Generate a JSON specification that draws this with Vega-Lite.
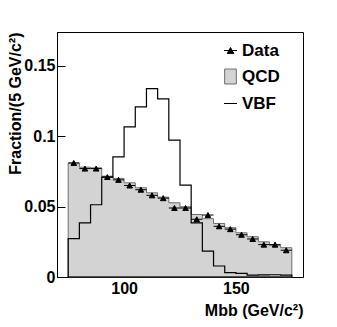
{
  "$schema": "https://vega.github.io/schema/vega-lite/v6.json",
  "width": 246,
  "height": 245,
  "autosize": {"type": "none"},
  "padding": {"left": 57, "top": 32, "right": 34, "bottom": 50},
  "background": "white",
  "data": {"values": [
    {"lo": 75, "hi": 80, "m": 77.5, "qcd": 0.0809, "vbf": 0.0272, "data": 0.081},
    {"lo": 80, "hi": 85, "m": 82.5, "qcd": 0.0780, "vbf": 0.0385, "data": 0.077},
    {"lo": 85, "hi": 90, "m": 87.5, "qcd": 0.0775, "vbf": 0.0513, "data": 0.077},
    {"lo": 90, "hi": 95, "m": 92.5, "qcd": 0.0716, "vbf": 0.0710, "data": 0.071},
    {"lo": 95, "hi": 100, "m": 97.5, "qcd": 0.0700, "vbf": 0.0853, "data": 0.069},
    {"lo": 100, "hi": 105, "m": 102.5, "qcd": 0.0669, "vbf": 0.1066, "data": 0.065},
    {"lo": 105, "hi": 110, "m": 107.5, "qcd": 0.0634, "vbf": 0.1208, "data": 0.062},
    {"lo": 110, "hi": 115, "m": 112.5, "qcd": 0.0598, "vbf": 0.1338, "data": 0.058},
    {"lo": 115, "hi": 120, "m": 117.5, "qcd": 0.0567, "vbf": 0.1265, "data": 0.056},
    {"lo": 120, "hi": 125, "m": 122.5, "qcd": 0.0527, "vbf": 0.0972, "data": 0.049},
    {"lo": 125, "hi": 130, "m": 127.5, "qcd": 0.0499, "vbf": 0.0652, "data": 0.049},
    {"lo": 130, "hi": 135, "m": 132.5, "qcd": 0.0444, "vbf": 0.0385, "data": 0.041},
    {"lo": 135, "hi": 140, "m": 137.5, "qcd": 0.0414, "vbf": 0.0184, "data": 0.044},
    {"lo": 140, "hi": 145, "m": 142.5, "qcd": 0.0380, "vbf": 0.0078, "data": 0.036},
    {"lo": 145, "hi": 150, "m": 147.5, "qcd": 0.0350, "vbf": 0.0031, "data": 0.034},
    {"lo": 150, "hi": 155, "m": 152.5, "qcd": 0.0314, "vbf": 0.0026, "data": 0.030},
    {"lo": 155, "hi": 160, "m": 157.5, "qcd": 0.0286, "vbf": 0.0014, "data": 0.027},
    {"lo": 160, "hi": 165, "m": 162.5, "qcd": 0.0250, "vbf": 0.0015, "data": 0.023},
    {"lo": 165, "hi": 170, "m": 167.5, "qcd": 0.0225, "vbf": 0.0016, "data": 0.023},
    {"lo": 170, "hi": 175, "m": 172.5, "qcd": 0.0208, "vbf": 0.0014, "data": 0.019}
  ]},
  "layer": [
    {
      "transform": [{"fold": ["lo", "hi"], "as": ["edge", "x"]}],
      "mark": {"type": "area", "fill": "#d3d3d3", "stroke": "#6e6e6e", "strokeWidth": 1, "opacity": 1},
      "encoding": {
        "x": {"field": "x", "type": "quantitative", "scale": {"domain": [70, 180], "nice": false}, "title": "Mbb (GeV/c²)", "axis": {"values": [100, 150]}},
        "y": {"field": "qcd", "type": "quantitative", "scale": {"domain": [0, 0.174], "nice": false}, "title": "Fraction/(5 GeV/c²)", "stack": null, "axis": {"values": [0, 0.05, 0.1, 0.15], "format": "~g"}}
      }
    },
    {
      "transform": [{"fold": ["lo", "hi"], "as": ["edge", "x"]}],
      "mark": {"type": "area", "fill": "transparent", "stroke": "black", "strokeWidth": 1.2},
      "encoding": {
        "x": {"field": "x", "type": "quantitative", "title": "Mbb (GeV/c²)"},
        "y": {"field": "vbf", "type": "quantitative", "title": "Fraction/(5 GeV/c²)", "stack": null}
      }
    },
    {
      "mark": {"type": "point", "filled": true, "opacity": 1, "size": 125, "strokeWidth": 1},
      "encoding": {
        "x": {"field": "m", "type": "quantitative", "title": "Mbb (GeV/c²)"},
        "y": {"field": "data", "type": "quantitative", "title": "Fraction/(5 GeV/c²)"},
        "shape": {"datum": "Data", "type": "nominal", "scale": {"domain": ["Data", "QCD", "VBF"], "range": ["M-1,0H1M-0.5,0.45L0,-0.45L0.5,0.45Z", "M-0.9,-1.15H0.9V1.15H-0.9Z", "M-1,0H1"]}, "legend": {"title": null}},
        "fill": {"datum": "Data", "type": "nominal", "scale": {"domain": ["Data", "QCD", "VBF"], "range": ["black", "#d3d3d3", "transparent"]}, "legend": {"title": null}},
        "stroke": {"datum": "Data", "type": "nominal", "scale": {"domain": ["Data", "QCD", "VBF"], "range": ["black", "#6e6e6e", "black"]}, "legend": {"title": null}}
      }
    }
  ],
  "config": {
    "view": {"stroke": "black", "strokeWidth": 1},
    "font": "Liberation Sans",
    "axis": {
      "grid": false,
      "domainColor": "black",
      "tickColor": "black",
      "tickSize": -8,
      "labelFont": "Liberation Sans",
      "labelFontSize": 16,
      "labelFontWeight": "bold",
      "labelColor": "black",
      "titleFont": "Liberation Sans",
      "titleFontSize": 16,
      "titleFontWeight": "bold",
      "titleColor": "black",
      "titleAnchor": "end"
    },
    "axisX": {"labelPadding": 11, "titlePadding": 6},
    "axisY": {"labelPadding": 10, "titlePadding": 0},
    "legend": {
      "orient": "none",
      "legendX": 165,
      "legendY": 10,
      "padding": 0,
      "labelFont": "Liberation Sans",
      "labelFontSize": 17,
      "labelFontWeight": "bold",
      "labelColor": "black",
      "symbolSize": 169,
      "symbolStrokeWidth": 1,
      "rowPadding": 8,
      "labelOffset": 3
    }
  }
}
